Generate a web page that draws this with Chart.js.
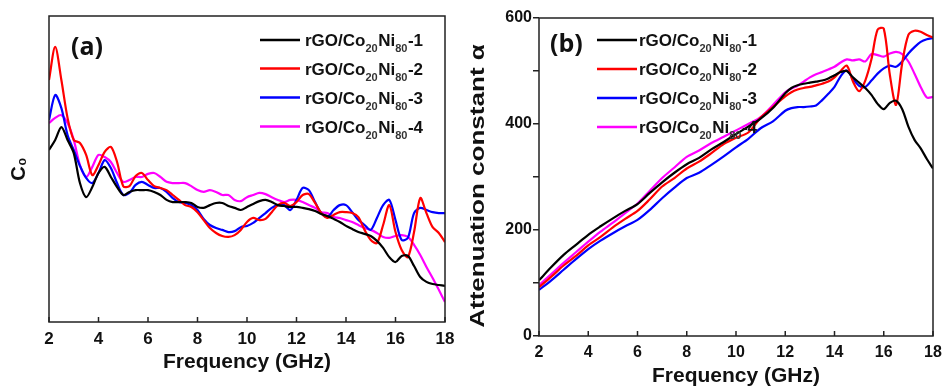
<!DOCTYPE html>
<html>
<head>
<meta charset="utf-8">
<script src="https://cdn.jsdelivr.net/npm/chart.js@4.4.1/dist/chart.umd.min.js"></script>
<style>
  html, body { margin: 0; padding: 0; background: #fff; }
  #wrap { position: relative; width: 944px; height: 387px; overflow: hidden; }
  .panel { position: absolute; top: 0; }
  #pa { left: 0; }
  #pb { left: 470px; }
</style>
</head>
<body>
<div id="wrap">
  <div class="panel" id="pa"><canvas id="chartA" width="470" height="387"></canvas></div>
  <div class="panel" id="pb"><canvas id="chartB" width="474" height="387"></canvas></div>
</div>
<script>
// panel (a): C0 vs frequency (arbitrary units, no y ticks in the figure)
const freqA = [2, 2.25, 2.5, 2.75, 3, 3.25, 3.5, 3.75, 4, 4.25, 4.5, 4.75, 5, 5.25, 5.5, 5.75,
  6, 6.25, 6.5, 6.75, 7, 7.25, 7.5, 7.75, 8, 8.25, 8.5, 8.75, 9, 9.25, 9.5, 9.75,
  10, 10.25, 10.5, 10.75, 11, 11.25, 11.5, 11.75, 12, 12.25, 12.5, 12.75, 13, 13.25, 13.5, 13.75,
  14, 14.25, 14.5, 14.75, 15, 15.25, 15.5, 15.75, 16, 16.25, 16.5, 16.75, 17, 17.25, 17.5, 17.75, 18];

const c0Sample1 = [56.2, 59.5, 63.7, 59.5, 55.2, 45.4, 40.8, 44.1, 48.7, 50.7, 47.4, 44.1, 41.5, 42.5, 43.1, 43.1,
  43.1, 42.5, 41.5, 39.9, 39.2, 39.2, 39.2, 38.9, 37.6, 37.3, 38.2, 38.9, 38.9, 37.9, 37.3, 36.6,
  37.6, 38.6, 39.5, 39.9, 39.2, 38.2, 37.9, 37.6, 37.6, 37.3, 36.9, 36.3, 35.3, 34.6, 33.7, 32.7,
  31.4, 30.4, 29.4, 28.8, 28.1, 26.5, 24.2, 21.2, 19.6, 21.6, 21.6, 18.3, 14.7, 13.1, 12.4, 12.1, 11.8];
const c0Sample2 = [79.1, 89.9, 79.1, 66.7, 59.5, 58.5, 54.6, 48.0, 51.3, 55.6, 57.2, 52.3, 44.4, 44.4, 47.7, 48.7,
  46.4, 44.4, 43.8, 43.1, 41.5, 39.9, 38.2, 37.6, 35.9, 33.3, 30.7, 29.1, 28.1, 27.8, 28.4, 30.1,
  32.7, 34.0, 33.3, 33.7, 35.9, 38.2, 38.9, 37.9, 39.2, 41.5, 41.8, 38.9, 35.6, 34.0, 35.0, 35.9,
  35.9, 35.6, 34.3, 30.1, 26.8, 25.8, 31.7, 38.2, 29.4, 23.5, 21.2, 29.4, 40.5, 35.6, 31.0, 29.1, 26.1];
const c0Sample3 = [66.0, 74.2, 69.9, 61.1, 56.2, 51.0, 47.1, 45.4, 48.7, 52.9, 50.3, 45.4, 41.5, 42.2, 44.8, 45.8,
  44.8, 43.8, 43.8, 42.5, 40.5, 39.2, 38.9, 38.2, 36.6, 33.7, 31.7, 30.7, 30.1, 29.4, 29.7, 31.0,
  31.4, 32.4, 34.0, 35.6, 37.3, 38.2, 38.2, 36.6, 39.9, 43.8, 43.1, 39.2, 35.6, 34.3, 36.6, 38.2,
  38.2, 35.9, 33.3, 31.7, 30.1, 34.0, 38.2, 39.9, 33.3, 26.8, 27.5, 35.6, 37.3, 36.6, 35.9, 35.6, 35.6];
const c0Sample4 = [65.0, 66.7, 67.6, 65.0, 59.5, 51.3, 47.4, 50.7, 54.6, 53.9, 52.3, 48.7, 45.8, 46.4, 47.4, 47.4,
  48.4, 48.7, 47.4, 45.8, 45.4, 45.4, 45.4, 44.4, 43.1, 42.5, 43.1, 42.5, 41.5, 41.5, 39.9, 39.5,
  40.8, 41.5, 42.2, 41.8, 40.8, 39.9, 39.2, 39.9, 39.9, 39.2, 38.2, 37.3, 35.9, 35.6, 34.3, 34.0,
  33.3, 32.7, 31.7, 30.7, 30.1, 29.1, 27.8, 27.5, 28.1, 28.4, 27.8, 25.2, 21.9, 18.0, 14.4, 10.5, 6.5];

// panel (b): attenuation constant alpha vs frequency
const freqB = [2, 2.5, 3, 3.5, 4, 4.5, 5, 5.5, 6, 6.5, 7, 7.5, 8, 8.5, 9, 9.5, 10, 10.5, 11, 11.5, 12,
  12.25, 12.5, 12.75, 13, 13.25, 13.5, 13.75, 14, 14.25, 14.5, 14.75, 15, 15.25, 15.5, 15.75,
  16, 16.25, 16.5, 16.75, 17, 17.25, 17.5, 17.75, 18];

const alphaSample1 = [105, 130, 153, 172, 191, 207, 222, 236, 249, 270, 290, 308, 324, 336, 352, 366, 381, 395, 410, 430, 458,
  468, 473, 476, 478, 480, 482, 486, 492, 498, 500, 488, 478, 468, 455, 438,
  428, 440, 444, 428, 395, 370, 354, 334, 316];
const alphaSample2 = [92, 112, 133, 151, 171, 187, 205, 221, 236, 258, 282, 298, 316, 329, 345, 362, 374, 384, 412, 432, 452,
  460, 465, 468, 470, 473, 476, 480, 488, 500, 510, 480, 462, 482, 522, 578,
  580, 492, 436, 515, 568, 576, 574, 568, 563];
const alphaSample3 = [87, 105, 125, 145, 164, 180, 194, 207, 219, 238, 260, 280, 298, 308, 323, 339, 356, 372, 392, 405, 425,
  430, 432, 432, 433, 435, 445, 457, 470, 490, 501, 485, 472, 470, 482, 495,
  505, 510, 508, 518, 533, 545, 555, 560, 562];
const alphaSample4 = [96, 117, 138, 158, 178, 197, 214, 232, 250, 274, 298, 318, 338, 350, 364, 376, 388, 400, 413, 436, 460,
  467, 472, 480, 488, 494, 498, 503, 508, 516, 522, 520, 522, 518, 532, 530,
  527, 533, 536, 532, 518, 495, 470, 450, 451];

const seriesLabels = ['rGO/Co_{20}Ni_{80}-1', 'rGO/Co_{20}Ni_{80}-2', 'rGO/Co_{20}Ni_{80}-3', 'rGO/Co_{20}Ni_{80}-4'];
const seriesColors = ['#000000', '#ff0000', '#0000ff', '#ff00ff'];
const xTicks = [2, 18, 2]; // min, max, step

const FONT = '"Liberation Sans", Arial, sans-serif';

function makeSets(freq, lists) {
  return lists.map((vals, i) => ({
    label: seriesLabels[i],
    data: freq.map((f, j) => ({ x: f, y: vals[j] })),
    borderColor: seriesColors[i],
    backgroundColor: seriesColors[i],
    borderWidth: 2.2,
    pointRadius: 0,
    tension: 0.3,
    fill: false
  }));
}

// box around the plot area
const framePlugin = {
  id: 'frame',
  afterDatasetsDraw(chart) {
    const { ctx, chartArea: a } = chart;
    ctx.save();
    ctx.strokeStyle = '#222';
    ctx.lineWidth = 1.5;
    ctx.strokeRect(a.left, a.top, a.right - a.left, a.bottom - a.top);
    ctx.restore();
  }
};

// x ticks pointing into the plot
const innerTicks = {
  id: 'innerTicks',
  afterDraw(chart) {
    const { ctx, chartArea: a } = chart;
    const sx = chart.scales.x;
    ctx.save();
    ctx.strokeStyle = '#222';
    ctx.lineWidth = 1.5;
    sx.ticks.forEach(t => {
      const px = sx.getPixelForValue(t.value);
      ctx.beginPath();
      ctx.moveTo(px, a.bottom);
      ctx.lineTo(px, a.bottom - 5);
      ctx.stroke();
    });
    ctx.restore();
  }
};

// legend with subscripts, drawn from the dataset labels
const richLegend = {
  id: 'richLegend',
  afterDraw(chart, args, opts) {
    const ctx = chart.ctx;
    ctx.save();
    chart.data.datasets.forEach((ds, i) => {
      const y = opts.rows[i];
      ctx.strokeStyle = ds.borderColor;
      ctx.lineWidth = 2.6;
      ctx.beginPath();
      ctx.moveTo(opts.x0, y);
      ctx.lineTo(opts.x1, y);
      ctx.stroke();
      let x = opts.tx;
      const parts = ds.label.split(/_\{(\d+)\}/);
      ctx.textBaseline = 'alphabetic';
      parts.forEach((p, k) => {
        const sub = k % 2 === 1;
        ctx.font = 'bold ' + (sub ? 11 : 17) + 'px ' + FONT;
        ctx.fillStyle = sub ? '#333' : '#111';
        ctx.fillText(p, x, sub ? y + 12 : y + 6);
        x += ctx.measureText(p).width + (sub ? 0.5 : 0);
      });
    });
    ctx.restore();
  }
};

const panelTag = {
  id: 'panelTag',
  afterDraw(chart, args, opts) {
    const ctx = chart.ctx;
    ctx.save();
    ctx.font = 'bold 25px "Open Sans", ' + FONT;
    ctx.fillStyle = '#111';
    ctx.textBaseline = 'middle';
    ctx.fillText(opts.text, opts.x, opts.y);
    ctx.restore();
  }
};

// rotated y title, stretched along its length like the original figure
const longTitle = {
  id: 'longTitle',
  afterDraw(chart, args, opts) {
    if (!opts.text) return;
    const ctx = chart.ctx;
    ctx.save();
    ctx.translate(opts.x, opts.y);
    ctx.rotate(-Math.PI / 2);
    ctx.scale(opts.stretch, 1);
    ctx.font = 'bold ' + opts.size + 'px ' + FONT;
    ctx.fillStyle = '#111';
    ctx.textAlign = 'center';
    ctx.textBaseline = 'middle';
    ctx.fillText(opts.text, 0, 0);
    ctx.restore();
  }
};

function xScale(tickSize, titleLineHeight, titlePad, height) {
  return {
    type: 'linear', min: xTicks[0], max: xTicks[1],
    ticks: { stepSize: xTicks[2], padding: -1, color: '#111', font: { family: FONT, size: tickSize, weight: 'bold' } },
    grid: { display: false },
    border: { display: false },
    title: {
      display: true, text: 'Frequency (GHz)', color: '#111',
      font: { family: FONT, size: 21, weight: 'bold', lineHeight: titleLineHeight },
      padding: { top: 0, bottom: titlePad }
    },
    afterFit(s) { s.height = height; }
  };
}

new Chart(document.getElementById('chartA'), {
  type: 'line',
  data: { datasets: makeSets(freqA, [c0Sample1, c0Sample2, c0Sample3, c0Sample4]) },
  options: {
    responsive: false,
    animation: false,
    layout: { padding: { left: 0, top: 16, right: 25, bottom: 0 } },
    plugins: {
      legend: { display: false },
      tooltip: { enabled: false },
      richLegend: { x0: 260, x1: 300, tx: 305, rows: [40, 68.5, 97.5, 126.5] },
      panelTag: { text: '(a)', x: 71, y: 48 },
      longTitle: {}
    },
    scales: {
      x: xScale(17, 1, 14.5, 65),
      y: {
        min: 0, max: 100,
        ticks: { display: false },
        grid: { display: false },
        border: { display: false },
        title: {
          display: true, text: 'C\u2080', color: '#111',
          font: { family: FONT, size: 20, weight: 'bold', lineHeight: 1 },
          padding: { top: 9, bottom: 0 }
        },
        afterFit(s) { s.width = 49; }
      }
    }
  },
  plugins: [framePlugin, innerTicks, richLegend, panelTag, longTitle]
});

new Chart(document.getElementById('chartB'), {
  type: 'line',
  data: { datasets: makeSets(freqB, [alphaSample1, alphaSample2, alphaSample3, alphaSample4]) },
  options: {
    responsive: false,
    animation: false,
    layout: { padding: { left: 0, top: 18, right: 11, bottom: 0 } },
    plugins: {
      legend: { display: false },
      tooltip: { enabled: false },
      richLegend: { x0: 127, x1: 167, tx: 169, rows: [40, 69, 98, 127] },
      panelTag: { text: '(b)', x: 80, y: 45 },
      longTitle: { text: 'Attenuation constant \u03b1', x: 8, y: 186, size: 21, stretch: 1.24 }
    },
    scales: {
      x: xScale(16, 1, 0, 51),
      y: {
        min: 0, max: 600,
        ticks: {
          stepSize: 100, padding: 1, color: '#111',
          font: { family: FONT, size: 16, weight: 'bold' },
          callback: v => (v % 200 === 0 ? v : '')
        },
        grid: { display: true, drawOnChartArea: false, drawTicks: true, tickLength: 6, color: '#222', lineWidth: 1.5 },
        border: { display: false },
        title: { display: false },
        afterFit(s) { s.width = 69; }
      }
    }
  },
  plugins: [framePlugin, innerTicks, richLegend, panelTag, longTitle]
});
</script>
</body>
</html>
